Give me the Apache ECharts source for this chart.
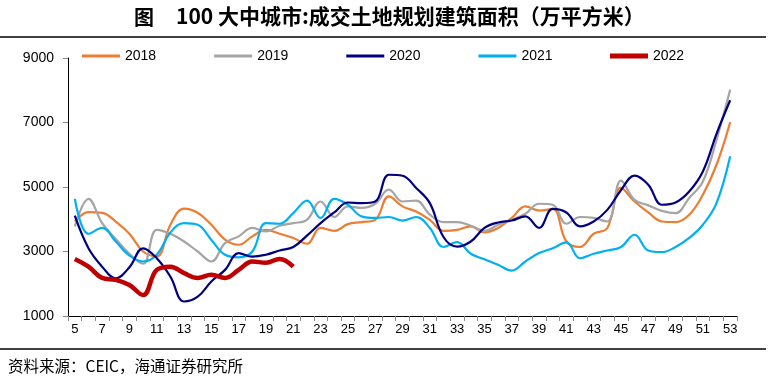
<!DOCTYPE html>
<html><head><meta charset="utf-8">
<script src="https://cdn.jsdelivr.net/npm/echarts@6/dist/echarts.min.js"></script>
<style>html,body{margin:0;padding:0;background:#fff}#c{width:770px;height:383px}</style>
</head><body><div id="c"></div>
<script>
var weeks = ['5','6','7','8','9','10','11','12','13','14','15','16','17','18','19','20','21','22','23','24','25','26','27','28','29','30','31','32','33','34','35','36','37','38','39','40','41','42','43','44','45','46','47','48','49','50','51','52','53'];
var y2018 = [3930,4220,4200,3930,3550,3000,2850,3830,4330,4200,3830,3370,3210,3470,3670,3550,3420,3240,3730,3640,3850,3910,3980,4710,4400,4240,3980,3640,3670,3780,3590,3730,4040,4400,4270,4320,3310,3140,3550,3730,4970,4550,4210,3930,3910,4140,4760,5690,7010];
var y2019 = [3780,4630,3880,3390,2930,2620,3670,3550,3310,3000,2690,3260,3470,3730,3620,3800,3880,3980,4550,4070,4400,4350,4480,4920,4550,4580,4140,3910,3910,3800,3640,3830,3980,4170,4480,4450,3860,4070,4040,3930,5200,4600,4430,4260,4190,4660,5170,6470,8020];
var y2020 = [4110,3100,2530,2170,2510,3100,2790,2220,1450,1600,2070,2430,2950,2840,2900,3030,3140,3490,3880,4210,4520,4500,4550,5380,5350,4970,4500,3450,3150,3310,3730,3900,3960,4090,3730,4320,4210,3780,3930,4290,4900,5350,5070,4450,4520,4860,5480,6650,7690];
var y2021 = [4630,3550,3730,3310,2870,2690,2900,3590,3880,3830,3360,2900,2820,3000,3880,3860,4190,4580,4040,4630,4450,4090,4040,4070,3960,4070,3730,3140,3290,2930,2760,2590,2410,2690,2950,3100,3280,2790,2930,3030,3140,3520,3030,2980,3140,3420,3830,4500,5950];
var y2022 = [2770,2530,2180,2120,1960,1650,2430,2530,2330,2180,2280,2180,2430,2690,2650,2770,2530];
var yTicks = [1000,3000,5000,7000,9000];
var names = ['2018','2019','2020','2021','2022'];
var colors = ['#ED7D31','#A5A5A5','#000080','#00B0F0','#C00000'];
var widths = [2.2,2.2,2.2,2.2,4.5];
var dataSets = [y2018,y2019,y2020,y2021,y2022];

var chart = echarts.init(document.getElementById('c'), null, {renderer:'canvas'});
var series = names.map(function(n,i){
  return {name:n,type:'line',data:dataSets[i],smooth:0.4,symbol:'none',
    lineStyle:{color:colors[i],width:widths[i]},itemStyle:{color:colors[i]},z:i===4?10:(i===2?5:2)};
});
var legendText = {fontFamily:'Liberation Sans',fontSize:14,color:'#000'};
chart.setOption({
  animation:false,
  backgroundColor:'#fff',
  grid:{left:68,right:33,top:58,height:258},
  legend:[
    {left:77,top:44,icon:'rect',itemWidth:38,itemHeight:3,itemGap:58,
     data:names.slice(0,4),textStyle:legendText},
    {left:605,top:44,icon:'rect',itemWidth:38,itemHeight:5,
     data:[names[4]],textStyle:legendText}
  ],
  xAxis:{type:'category',data:weeks,boundaryGap:true,
    axisLine:{lineStyle:{color:'#000',width:1}},
    axisTick:{show:true,length:5,lineStyle:{color:'#888'},interval:0},
    axisLabel:{interval:1,margin:7,fontFamily:'Liberation Sans',fontSize:13,color:'#000'}},
  yAxis:{type:'value',min:yTicks[0],max:yTicks[yTicks.length-1],interval:2000,
    axisLine:{show:true,lineStyle:{color:'#000',width:1}},
    axisTick:{show:true,length:5,lineStyle:{color:'#888'}},
    splitLine:{show:false},
    axisLabel:{margin:14,fontFamily:'Liberation Sans',fontSize:14,color:'#000',
      formatter:function(v){return String(v);}}},
  graphic:[
    {type:'text',left:134,top:7,style:{text:'图',font:'bold 20px "Noto Sans CJK SC"',fill:'#000'}},
    {type:'text',left:176,top:6,style:{text:'100 大中城市:成交土地规划建筑面积（万平方米）',font:'bold 21px "Noto Sans CJK SC"',fill:'#000'}},
    {type:'line',shape:{x1:0,y1:37,x2:766,y2:37},style:{stroke:'#000',lineWidth:1.5}},
    {type:'line',shape:{x1:0,y1:349,x2:766,y2:349},style:{stroke:'#000',lineWidth:1.5}},
    {type:'text',left:8,top:358,style:{text:'资料来源：CEIC，海通证券研究所',font:'15.5px "Noto Sans CJK SC"',fill:'#000'}}
  ],
  series:series
});
</script></body></html>
